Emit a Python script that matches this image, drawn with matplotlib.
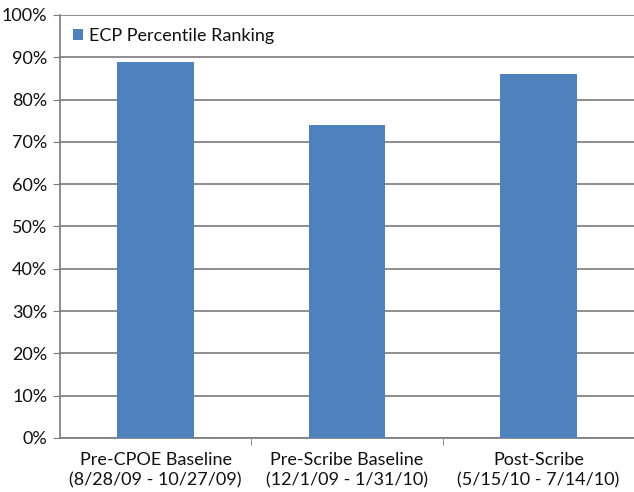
import numpy as np
import matplotlib.pyplot as plt
from matplotlib.ticker import PercentFormatter

periods = ["Pre-CPOE Baseline\n(8/28/09 - 10/27/09)",
           "Pre-Scribe Baseline\n(12/1/09 - 1/31/10)",
           "Post-Scribe\n(5/15/10 - 7/14/10)"]
ranking = [89, 74, 86]

plt.rcParams['font.family'] = ['Lato', 'DejaVu Sans']

fig = plt.figure(figsize=(6.34, 4.92), dpi=100)
ax = fig.add_axes([60 / 634, 54 / 492, 574 / 634, 423 / 492])

x = np.arange(len(periods))
ax.bar(x, ranking, width=0.4, color='#4F81BD', label='ECP Percentile Ranking', zorder=3)

ax.set_xlim(-0.5, 2.5)
ax.set_ylim(0, 100)
ax.set_yticks(np.arange(0, 101, 10))
ax.yaxis.set_major_formatter(PercentFormatter(decimals=0))
ax.grid(axis='y', color='#7a7a7a', linewidth=1.2, zorder=0)

# category labels centred under bars, tick marks between categories
ax.set_xticks(x)
ax.set_xticklabels(periods, fontsize=13, linespacing=1.3, color='#111111')
ax.tick_params(axis='x', length=0, pad=10)
ax.set_xticks([0.5, 1.5], minor=True)
ax.tick_params(axis='x', which='minor', length=5, color='#7a7a7a')
ax.tick_params(axis='y', labelsize=13, length=5, color='#7a7a7a', pad=4,
               labelcolor='#111111')

for s in ['top', 'right']:
    ax.spines[s].set_visible(False)
for s in ['left', 'bottom']:
    ax.spines[s].set_color('#7a7a7a')
    ax.spines[s].set_linewidth(1.2)

ax.legend(loc='upper left', frameon=False, fontsize=13, handlelength=0.6,
          handleheight=0.6, handletextpad=0.3, bbox_to_anchor=(0.0, 1.0),
          borderaxespad=0.3, labelcolor='#111111')

fig.savefig('out.png', dpi=100)
